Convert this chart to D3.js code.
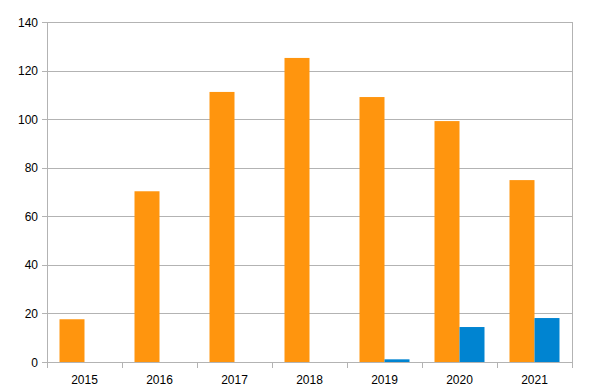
<!DOCTYPE html>
<html><head><meta charset="utf-8">
<script src="https://cdn.jsdelivr.net/npm/d3@7"></script>
<style>body{margin:0;background:#fff}svg{display:block}</style>
</head><body>
<svg id="c" width="591" height="392"></svg>
<script>
const years = ["2015","2016","2017","2018","2019","2020","2021"];
const seriesA = [17.6, 70.3, 111.2, 125.2, 109.1, 99.2, 74.9];
const seriesB = [0, 0, 0, 0, 1.1, 14.4, 18.1];
const yTicks = [0,20,40,60,80,100,120,140];
const colors = ["#ff950e", "#0084d1"];

const svg = d3.select("#c");
const L = 47, R = 572, T = 22, B = 362;
const x = d3.scaleBand().domain(years).range([L, R]);
const inner = d3.scaleBand().domain([0,1]).range([0, x.bandwidth()]).paddingOuter(0.5).paddingInner(0);
const y = d3.scaleLinear().domain([0,140]).range([B, T]);
const grid = "#b3b3b3";

// gridlines
svg.append("g").selectAll("line").data(yTicks).join("line")
  .attr("x1", L - 5).attr("x2", R).attr("y1", d => Math.round(y(d)) + 0.5).attr("y2", d => Math.round(y(d)) + 0.5)
  .attr("stroke", grid).attr("stroke-width", 1);
// right border
svg.append("line").attr("x1", R + 0.5).attr("x2", R + 0.5).attr("y1", T).attr("y2", B + 1).attr("stroke", grid);
// left axis
svg.append("line").attr("x1", L + 0.5).attr("x2", L + 0.5).attr("y1", T).attr("y2", B + 6).attr("stroke", grid);
// x ticks
const bounds = years.map(d => x(d)).concat([R]);
svg.append("g").selectAll("line").data(bounds).join("line")
  .attr("x1", d => Math.round(d) + 0.5).attr("x2", d => Math.round(d) + 0.5)
  .attr("y1", B).attr("y2", B + 6).attr("stroke", grid);

// bars
const series = [seriesA, seriesB];
series.forEach((s, si) => {
  svg.append("g").selectAll("rect").data(s.map((v, i) => ({v, k: years[i]}))).join("rect")
    .attr("x", d => x(d.k) + inner(si))
    .attr("width", inner.bandwidth())
    .attr("y", d => y(d.v))
    .attr("height", d => B - y(d.v))
    .attr("fill", colors[si]);
});

// bottom axis line
svg.append("line").attr("x1", L).attr("x2", R + 1).attr("y1", B + 0.5).attr("y2", B + 0.5).attr("stroke", grid);

// y labels
svg.append("g").selectAll("text").data(yTicks).join("text")
  .attr("x", 38).attr("y", d => y(d) + 4.5)
  .attr("text-anchor", "end")
  .attr("font-family", "Liberation Sans, Arial, sans-serif").attr("font-size", 12).attr("fill", "#000")
  .text(d => d);
// x labels
svg.append("g").selectAll("text").data(years).join("text")
  .attr("x", d => x(d) + x.bandwidth() / 2).attr("y", 384)
  .attr("text-anchor", "middle")
  .attr("font-family", "Liberation Sans, Arial, sans-serif").attr("font-size", 12).attr("fill", "#000")
  .text(d => d);
</script>
</body></html>
